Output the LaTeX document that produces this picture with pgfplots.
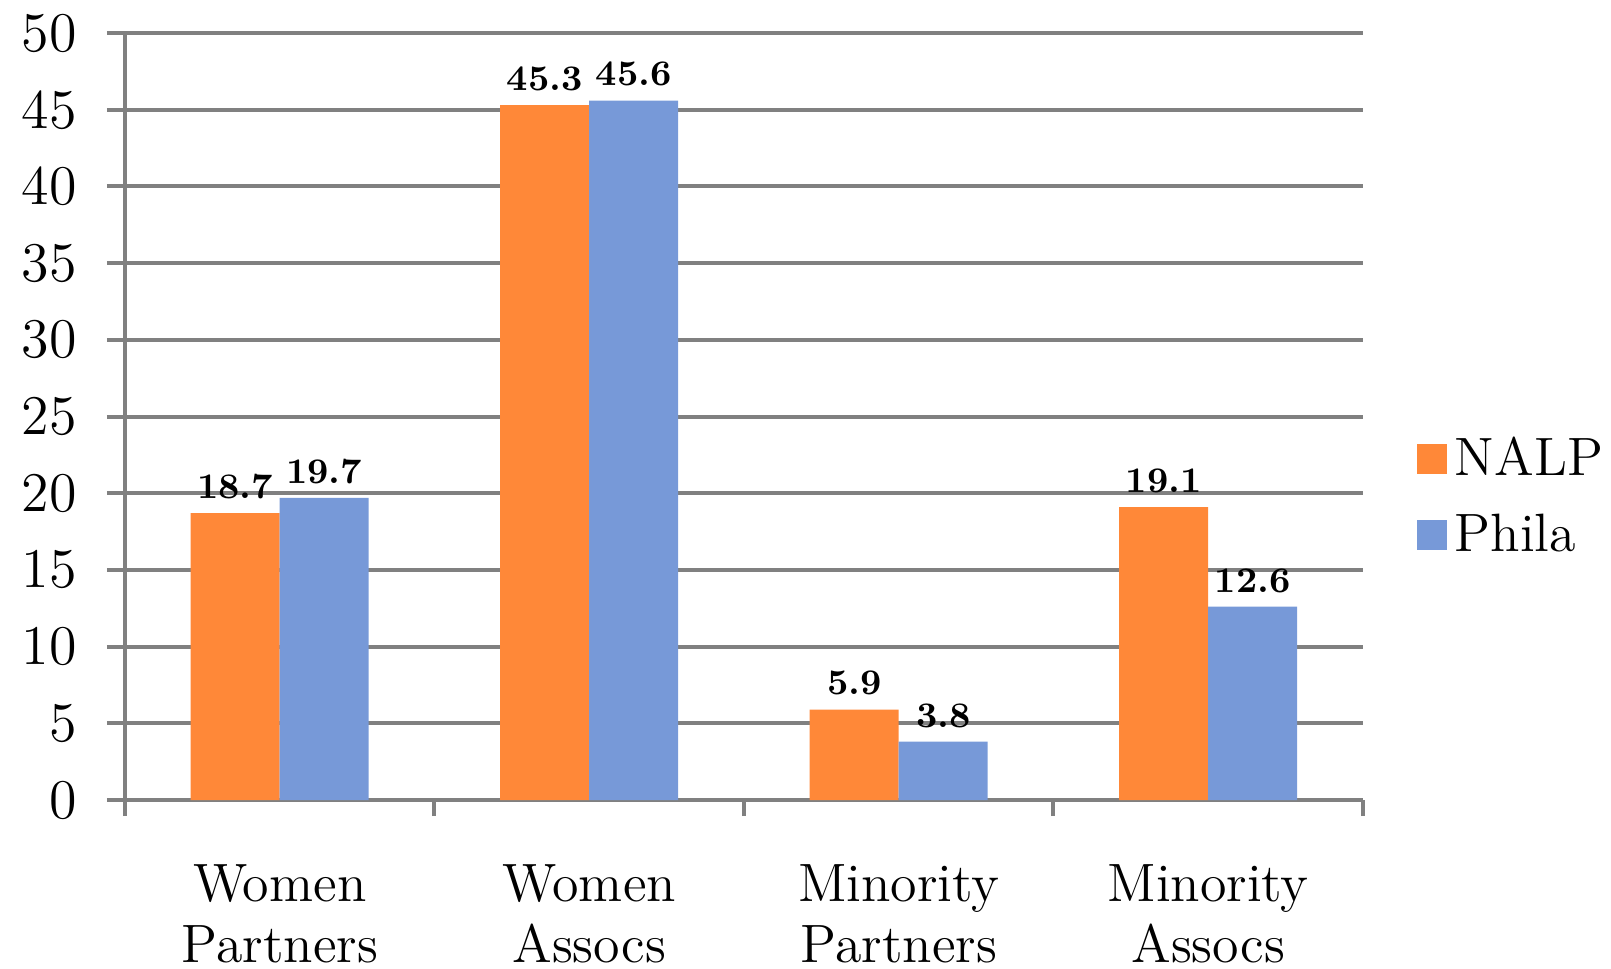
\documentclass[border=0pt]{standalone}
\usepackage{fontspec}
\usepackage{pgfplots}
\pgfplotsset{compat=1.18}

\definecolor{nalp}{HTML}{FF8838}
\definecolor{phila}{HTML}{7799D8}
\definecolor{gridgray}{HTML}{808080}

\begin{document}
\begin{tikzpicture}
\begin{axis}[
    at={(0,0)}, anchor=south west,
    scale only axis, width=309.5pt, height=191.75pt,
    ybar=0pt, bar width=22.25pt,
    xmin=-0.5, xmax=3.5, ymin=0, ymax=50,
    xtick={0,1,2,3},
    xticklabels={{Women\\Partners},{Women\\Assocs},{Minority\\Partners},{Minority\\Assocs}},
    xticklabel style={align=center, font=\fontsize{13.5}{15.25}\selectfont, yshift=-8pt},
    major x tick style={draw=none},
    minor xtick={-0.5,0.5,1.5,2.5,3.5},
    ytick={0,5,...,50},
    yticklabel style={font=\fontsize{14}{15}\selectfont, xshift=-4pt},
    /pgf/number format/assume math mode=true,
    ymajorgrids,
    major grid style={gridgray, line width=1pt},
    axis x line*=bottom, axis y line*=left,
    axis line style={gridgray, line width=1pt, -},
    tick align=outside,
    major tick length=4.5pt, minor tick length=4pt,
    tick style={gridgray, line width=1pt},
    nodes near coords,
    every node near coord/.append style={font=\bfseries\fontsize{9}{10}\selectfont, black},
    legend style={at={(1,0.395)}, xshift=13.25pt, anchor=west, draw=none,
        inner sep=0pt, row sep=4pt,
        font=\fontsize{13.5}{16}\selectfont,
        /tikz/every even column/.append style={column sep=3pt}},
    legend cell align=left,
    legend image code/.code={\fill[#1] (0pt,-3.75pt) rectangle (7.5pt,3.75pt);},
]
\addplot[fill=nalp, draw=none] coordinates {(0,18.7) (1,45.3) (2,5.9) (3,19.1)};
\addplot[fill=phila, draw=none] coordinates {(0,19.7) (1,45.6) (2,3.8) (3,12.6)};
\legend{NALP,Phila}
\end{axis}
\pgfresetboundingbox
\path (-31.25pt,-42pt) rectangle (371.5pt,200pt);
\end{tikzpicture}
\end{document}
